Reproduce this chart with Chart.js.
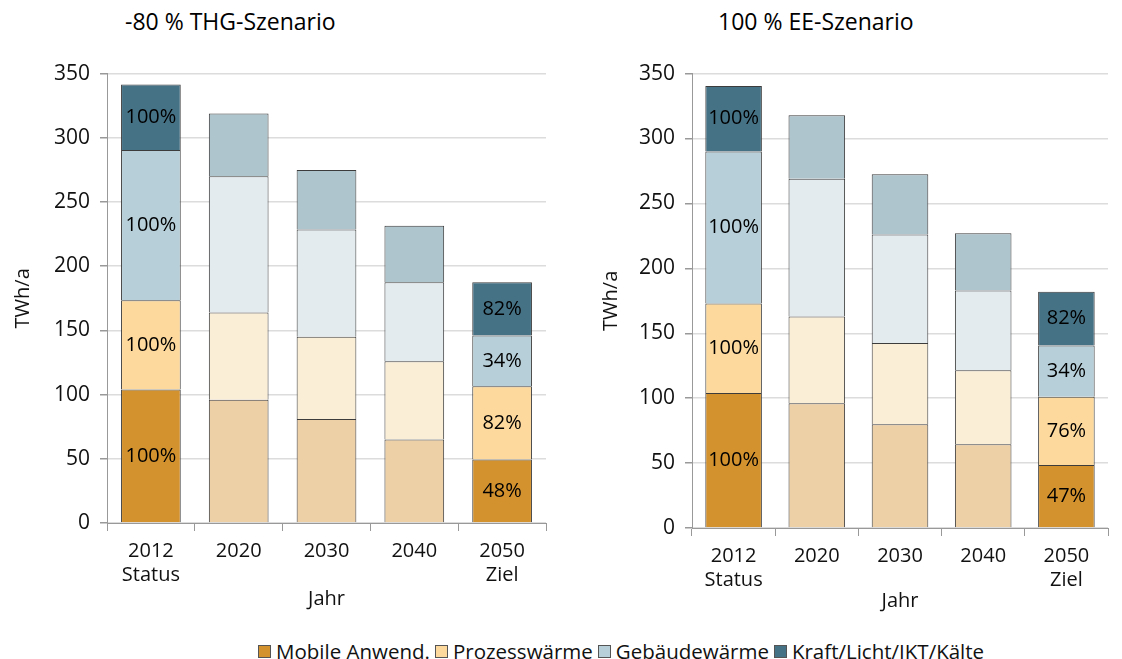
<!DOCTYPE html>
<html>
<head>
<meta charset="utf-8">
<script src="https://cdn.jsdelivr.net/npm/chart.js@4.4.0/dist/chart.umd.min.js"></script>
<style>
  body { margin: 0; background: #fff; font-family: "Open Sans", sans-serif; }
  #wrap { position: relative; width: 1122px; height: 659px; overflow: hidden; }
  .title { position: absolute; font-size: 23px; color: #000; white-space: nowrap; }
  .box { position: absolute; }
  #legend { position: absolute; left: 258px; top: 637px; display: flex; font-size: 20.5px; color: #111; white-space: nowrap; }
  #legend span.item { display: flex; align-items: center; margin-right: 5px; }
  #legend i { display: inline-block; width: 11px; height: 11px; border: 1px solid #555; margin-right: 5px; }
</style>
</head>
<body>
<div id="wrap">
  <div class="title" style="left:125px; top:5px;">-80 % THG-Szenario</div>
  <div class="title" style="left:718px; top:5px;">100 % EE-Szenario</div>
  <div class="box" style="left:0; top:51px; width:560px; height:562px;"><canvas id="left"></canvas></div>
  <div class="box" style="left:585px; top:51px; width:537px; height:567px;"><canvas id="right"></canvas></div>
  <div id="legend"></div>
</div>
<script>
const years = [['2012', 'Status'], '2020', '2030', '2040', ['2050', 'Ziel']];
const seriesNames = ['Mobile Anwend.', 'Prozesswärme', 'Gebäudewärme', 'Kraft/Licht/IKT/Kälte'];

// -80 % THG-Szenario (TWh/a)
const thgMobile   = [104, 96, 81, 65, 49.5];
const thgProzess  = [69.5, 68, 64, 61, 57];
const thgGebaeude = [117, 106, 83.5, 61.5, 39.5];
const thgKraft    = [51, 49, 46.5, 44, 41.5];

// 100 % EE-Szenario (TWh/a)
const eeMobile   = [104, 96, 80, 64.5, 48.5];
const eeProzess  = [69, 67, 62.5, 57, 52.5];
const eeGebaeude = [117, 106, 83.5, 61.5, 39.5];
const eeKraft    = [50.5, 49, 46.5, 44, 41.5];

// Prozent-Beschriftungen (nur 2012 und 2050)
const thgPct = [[100, null, null, null, 48], [100, null, null, null, 82], [100, null, null, null, 34], [100, null, null, null, 82]];
const eePct  = [[100, null, null, null, 47], [100, null, null, null, 76], [100, null, null, null, 34], [100, null, null, null, 82]];

const fullColors  = ['#d4922f', '#fdd99d', '#b7cfd8', '#467286'];
const fadedColors = ['#eed0a7', '#fbeed7', '#e3ebef', '#afc5cd'];
const FONT = '"Open Sans", sans-serif';

function barColors(i) {
  return years.map((y, j) => (j === 0 || j === years.length - 1) ? fullColors[i] : fadedColors[i]);
}

const pctLabels = {
  id: 'pctLabels',
  afterDatasetsDraw(chart, args, opts) {
    const ctx = chart.ctx;
    ctx.save();
    ctx.font = '20px ' + FONT;
    ctx.fillStyle = '#000';
    ctx.textAlign = 'center';
    ctx.textBaseline = 'middle';
    chart.data.datasets.forEach((ds, i) => {
      chart.getDatasetMeta(i).data.forEach((bar, j) => {
        const v = opts.pct[i][j];
        if (v == null) return;
        ctx.fillText(v + '%', bar.x, (bar.y + bar.base) / 2);
      });
    });
    ctx.restore();
  }
};

function makeChart(id, values, pct, yTitlePad, xTitlePad) {
  const data = {
    labels: years,
    datasets: values.map((v, i) => ({
      label: seriesNames[i],
      data: v,
      backgroundColor: barColors(i),
      borderColor: '#3c3c3c',
      borderWidth: 1,
      barPercentage: 0.68,
      categoryPercentage: 1
    }))
  };

  const config = {
    type: 'bar',
    data: data,
    plugins: [pctLabels],
    options: {
      responsive: true,
      maintainAspectRatio: false,
      animation: false,
      layout: { padding: { top: 0, right: 14, bottom: 0, left: 0 } },
      plugins: {
        legend: { display: false },
        tooltip: { enabled: false },
        pctLabels: { pct: pct }
      },
      scales: {
        x: {
          stacked: true,
          afterFit: s => { s.height = 90; },
          grid: { drawOnChartArea: false, offset: true, tickLength: 8, tickColor: '#999', lineWidth: 1 },
          border: { color: '#999' },
          ticks: { color: '#111', font: { family: FONT, size: 20 }, padding: 8 },
          title: { display: true, text: 'Jahr', color: '#111', font: { family: FONT, size: 20 }, padding: { top: 0, bottom: xTitlePad } }
        },
        y: {
          stacked: true,
          min: 0,
          max: 350,
          afterFit: s => { s.width = 107; },
          grid: { color: '#dcdcdc', lineWidth: 1.5, tickLength: 7, tickColor: '#999' },
          border: { color: '#999' },
          ticks: { stepSize: 50, color: '#111', font: { family: FONT, size: 21 }, padding: 10 },
          title: { display: true, text: 'TWh/a', color: '#111', font: { family: FONT, size: 20 }, padding: { top: yTitlePad, bottom: 0 } }
        }
      }
    }
  };

  let c = document.getElementById(id).getContext('2d');
  return new Chart(c, config);
}

makeChart('left', [thgMobile, thgProzess, thgGebaeude, thgKraft], thgPct, 11, 2);
makeChart('right', [eeMobile, eeProzess, eeGebaeude, eeKraft], eePct, 14, 5);

const legend = document.getElementById('legend');
seriesNames.forEach((name, i) => {
  const item = document.createElement('span');
  item.className = 'item';
  const sw = document.createElement('i');
  sw.style.background = fullColors[i];
  item.appendChild(sw);
  item.appendChild(document.createTextNode(name));
  legend.appendChild(item);
});
</script>
</body>
</html>
